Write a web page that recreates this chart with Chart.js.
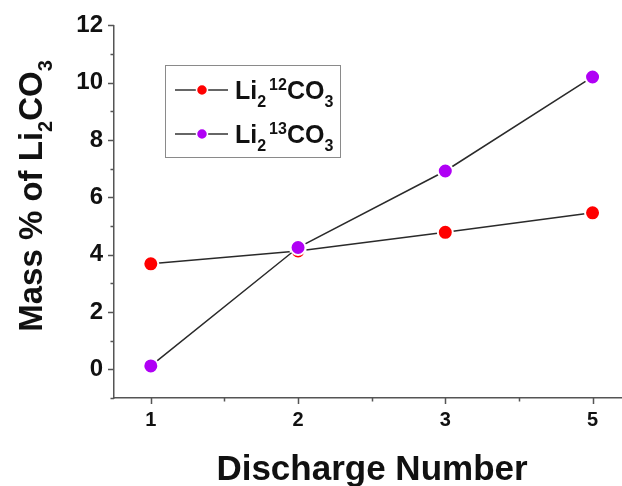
<!DOCTYPE html>
<html>
<head>
<meta charset="utf-8">
<script src="https://cdn.jsdelivr.net/npm/chart.js"></script>
<style>
  html, body { margin: 0; padding: 0; background: #fff; }
  #chart { display: block; }
</style>
</head>
<body>
<canvas id="chart" width="622" height="486"></canvas>
<script>
// discharge numbers shown on the x axis (evenly spaced, 4 is skipped)
const dischargeLabels = ['1', '2', '3', '5'];
// mass % of Li2CO3
const li12Values = [3.68, 4.13, 4.78, 5.46];
const li13Values = [0.12, 4.25, 6.92, 10.2];
const yTickValues = [0, 2, 4, 6, 8, 10, 12];

const FONT = '"Liberation Sans", Arial, Helvetica, sans-serif';
const axisColor = '#555';

// draws "Li", sub "2", sup "12" etc on the canvas, returns total width
function richText(ctx, parts, x, y, size, measureOnly) {
  let cx = x;
  for (const [txt, mode] of parts) {
    const s = mode ? Math.round(size * 0.62) : size;
    ctx.font = 'bold ' + s + 'px ' + FONT;
    let dy = 0;
    if (mode === 'sub') dy = size * 0.3;
    if (mode === 'sup') dy = -size * 0.36;
    if (!measureOnly) ctx.fillText(txt, cx, y + dy);
    cx += ctx.measureText(txt).width;
    if (mode === 'gap') cx += size * 0.12;
  }
  return cx - x;
}

const legendItems = [
  { parts: [['Li'], ['2', 'sub'], ['', 'gap'], ['12', 'sup'], ['CO'], ['3', 'sub']], ds: 0 },
  { parts: [['Li'], ['2', 'sub'], ['', 'gap'], ['13', 'sup'], ['CO'], ['3', 'sub']], ds: 1 }
];
const yTitleParts = [['Mass % of Li'], ['2', 'sub'], ['CO'], ['3', 'sub']];

const decorations = {
  id: 'decorations',
  afterDraw(chart) {
    const ctx = chart.ctx;
    const xs = chart.scales.x, ys = chart.scales.y;
    const area = chart.chartArea;
    ctx.save();
    ctx.strokeStyle = axisColor;
    ctx.lineWidth = 1.5;
    ctx.beginPath();
    // y ticks: major on even numbers, minor on odd
    for (let v = -1; v <= 12; v++) {
      const py = Math.round(ys.getPixelForValue(v)) + 0.5;
      const len = v % 2 === 0 ? 6 : 3.5;
      ctx.moveTo(area.left, py);
      ctx.lineTo(area.left - len, py);
    }
    // x ticks: major on each discharge, minor half way
    for (let i = 1; i <= dischargeLabels.length; i += 0.5) {
      const px = Math.round(xs.getPixelForValue(i)) + 0.5;
      const len = Number.isInteger(i) ? 6 : 3.5;
      ctx.moveTo(px, area.bottom);
      ctx.lineTo(px, area.bottom + len);
    }
    ctx.stroke();

    // axis titles
    ctx.fillStyle = '#111';
    ctx.textBaseline = 'alphabetic';
    ctx.textAlign = 'left';
    ctx.font = 'bold 35px ' + FONT;
    const xt = 'Discharge Number';
    const xw = ctx.measureText(xt).width;
    ctx.fillText(xt, 372 - xw / 2, 480);

    const yw = richText(ctx, yTitleParts, 0, 0, 33, true);
    ctx.translate(42, 196);
    ctx.rotate(-Math.PI / 2);
    richText(ctx, yTitleParts, -yw / 2, 0, 33);
    ctx.restore();

    // legend box
    ctx.save();
    ctx.strokeStyle = '#8a8a8a';
    ctx.lineWidth = 1;
    ctx.strokeRect(165.5, 65.5, 175, 92);
    legendItems.forEach((item, k) => {
      const ds = chart.data.datasets[item.ds];
      const cy = 90 + k * 44;
      ctx.strokeStyle = '#333';
      ctx.lineWidth = 1.5;
      ctx.beginPath();
      ctx.moveTo(175, cy);
      ctx.lineTo(228, cy);
      ctx.stroke();
      ctx.beginPath();
      ctx.arc(202, cy, 5.5, 0, Math.PI * 2);
      ctx.fillStyle = ds.pointBackgroundColor;
      ctx.fill();
      ctx.strokeStyle = '#fff';
      ctx.lineWidth = 1.5;
      ctx.stroke();
      ctx.fillStyle = '#111';
      ctx.textBaseline = 'alphabetic';
      richText(ctx, item.parts, 235, cy + 9, 25);
    });
    ctx.restore();
  }
};

const toPoints = vals => vals.map((v, i) => ({ x: i + 1, y: v }));

new Chart(document.getElementById('chart'), {
  type: 'line',
  data: {
    datasets: [{
      label: 'Li2 12CO3',
      data: toPoints(li12Values),
      borderColor: '#2a2a2a',
      borderWidth: 1.5,
      pointBackgroundColor: '#ff0000',
      pointBorderColor: '#ffffff',
      pointBorderWidth: 2,
      pointRadius: 7.5,
      order: 2
    }, {
      label: 'Li2 13CO3',
      data: toPoints(li13Values),
      borderColor: '#2a2a2a',
      borderWidth: 1.5,
      pointBackgroundColor: '#b000f5',
      pointBorderColor: '#ffffff',
      pointBorderWidth: 2,
      pointRadius: 7.5,
      order: 1
    }]
  },
  options: {
    responsive: false,
    animation: false,
    clip: false,
    layout: { autoPadding: false, padding: { top: 25, right: 0, left: 0, bottom: 0 } },
    plugins: {
      legend: { display: false },
      tooltip: { enabled: false }
    },
    scales: {
      x: {
        type: 'linear',
        min: 0.75,
        max: 4.2,
        afterFit: s => { s.height = 88; },
        afterBuildTicks: s => { s.ticks = dischargeLabels.map((_, i) => ({ value: i + 1 })); },
        ticks: {
          autoSkip: false,
          maxRotation: 0,
          padding: 10,
          color: '#111',
          font: { family: FONT, size: 20, weight: 'bold' },
          callback: v => dischargeLabels[v - 1] ?? ''
        },
        grid: { display: false, drawTicks: false },
        border: { display: true, color: axisColor, width: 1.5 }
      },
      y: {
        min: -1,
        max: 12,
        afterFit: s => { s.width = 114; },
        afterBuildTicks: s => { s.ticks = yTickValues.map(v => ({ value: v })); },
        ticks: {
          padding: 11,
          color: '#111',
          font: { family: FONT, size: 24, weight: 'bold' },
          callback: v => v
        },
        grid: { display: false, drawTicks: false },
        border: { display: true, color: axisColor, width: 1.5 }
      }
    }
  },
  plugins: [decorations]
});
</script>
</body>
</html>
